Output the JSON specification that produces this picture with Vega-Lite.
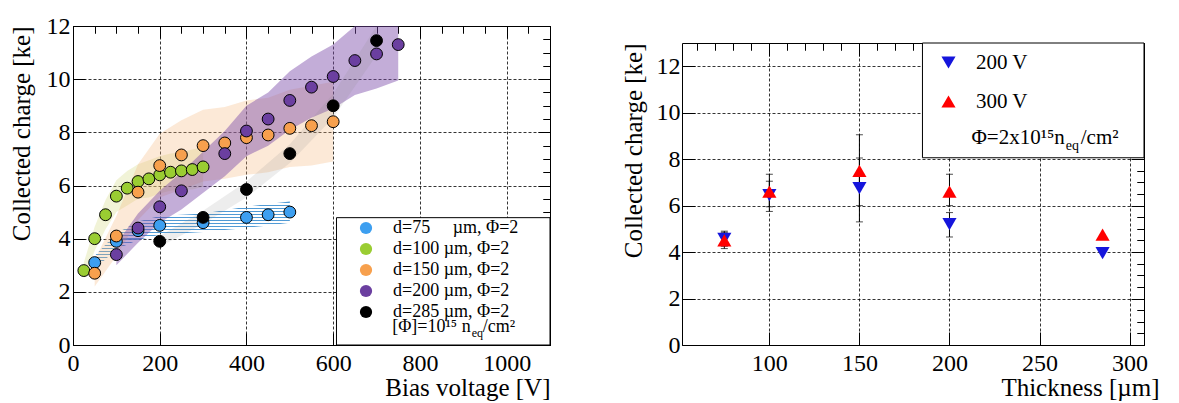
{
  "$schema": "https://vega.github.io/schema/vega-lite/v6.json",
  "padding": {"left": 8, "top": 13, "right": 0, "bottom": 0},
  "spacing": 69,
  "config": {
    "font": "Liberation Serif",
    "view": {"stroke": "black", "strokeWidth": 1},
    "text": {"font": "Liberation Serif"},
    "axis": {
      "domain": false,
      "labelFont": "Liberation Serif",
      "titleFont": "Liberation Serif",
      "labelFontSize": 24,
      "labelColor": "black",
      "titleFontSize": 25,
      "titleFontWeight": "normal",
      "titleColor": "black",
      "tickColor": "black",
      "tickWidth": 1,
      "gridColor": "black",
      "gridDash": [3, 2],
      "gridWidth": 0.8,
      "labelFlush": false,
      "labelOverlap": false
    },
    "legend": {"labelFont": "Liberation Serif", "labelColor": "black"}
  },
  "datasets": {
    "left": [
      {"d": 75, "v": 50, "q": 3.1, "lo": 2.85, "hi": 3.35},
      {"d": 75, "v": 100, "q": 3.9, "lo": 3.6, "hi": 4.2},
      {"d": 75, "v": 150, "q": 4.3, "lo": 3.95, "hi": 4.65},
      {"d": 75, "v": 200, "q": 4.5, "lo": 4.15, "hi": 4.85},
      {"d": 75, "v": 300, "q": 4.6, "lo": 4.25, "hi": 4.95},
      {"d": 75, "v": 400, "q": 4.8, "lo": 4.4, "hi": 5.2},
      {"d": 75, "v": 450, "q": 4.9, "lo": 4.5, "hi": 5.3},
      {"d": 75, "v": 500, "q": 5.0, "lo": 4.6, "hi": 5.4},
      {"d": 100, "v": 25, "q": 2.8, "lo": 2.5, "hi": 3.1},
      {"d": 100, "v": 50, "q": 4.0, "lo": 3.55, "hi": 4.45},
      {"d": 100, "v": 75, "q": 4.9, "lo": 4.35, "hi": 5.45},
      {"d": 100, "v": 100, "q": 5.6, "lo": 5.0, "hi": 6.2},
      {"d": 100, "v": 125, "q": 5.9, "lo": 5.25, "hi": 6.55},
      {"d": 100, "v": 150, "q": 6.15, "lo": 5.5, "hi": 6.8},
      {"d": 100, "v": 175, "q": 6.25, "lo": 5.55, "hi": 6.95},
      {"d": 100, "v": 200, "q": 6.4, "lo": 5.7, "hi": 7.1},
      {"d": 100, "v": 225, "q": 6.5, "lo": 5.8, "hi": 7.2},
      {"d": 100, "v": 250, "q": 6.55, "lo": 5.85, "hi": 7.25},
      {"d": 100, "v": 275, "q": 6.6, "lo": 5.85, "hi": 7.35},
      {"d": 100, "v": 300, "q": 6.7, "lo": 5.95, "hi": 7.45},
      {"d": 150, "v": 50, "q": 2.7, "lo": 2.2, "hi": 3.2},
      {"d": 150, "v": 100, "q": 4.1, "lo": 3.35, "hi": 4.85},
      {"d": 150, "v": 150, "q": 5.75, "lo": 4.7, "hi": 6.8},
      {"d": 150, "v": 200, "q": 6.75, "lo": 5.55, "hi": 7.95},
      {"d": 150, "v": 250, "q": 7.15, "lo": 5.85, "hi": 8.45},
      {"d": 150, "v": 300, "q": 7.5, "lo": 6.15, "hi": 8.85},
      {"d": 150, "v": 350, "q": 7.6, "lo": 6.25, "hi": 8.95},
      {"d": 150, "v": 400, "q": 7.8, "lo": 6.4, "hi": 9.2},
      {"d": 150, "v": 450, "q": 7.9, "lo": 6.5, "hi": 9.3},
      {"d": 150, "v": 500, "q": 8.15, "lo": 6.7, "hi": 9.6},
      {"d": 150, "v": 550, "q": 8.25, "lo": 6.75, "hi": 9.75},
      {"d": 150, "v": 600, "q": 8.4, "lo": 6.9, "hi": 9.9},
      {"d": 200, "v": 100, "q": 3.4, "lo": 3.0, "hi": 3.8},
      {"d": 200, "v": 150, "q": 4.4, "lo": 3.85, "hi": 4.95},
      {"d": 200, "v": 200, "q": 5.2, "lo": 4.6, "hi": 5.8},
      {"d": 200, "v": 250, "q": 5.8, "lo": 5.1, "hi": 6.5},
      {"d": 200, "v": 350, "q": 7.2, "lo": 6.35, "hi": 8.05},
      {"d": 200, "v": 400, "q": 8.05, "lo": 7.1, "hi": 9.0},
      {"d": 200, "v": 450, "q": 8.5, "lo": 7.5, "hi": 9.5},
      {"d": 200, "v": 500, "q": 9.2, "lo": 8.1, "hi": 10.3},
      {"d": 200, "v": 550, "q": 9.7, "lo": 8.55, "hi": 10.85},
      {"d": 200, "v": 600, "q": 10.1, "lo": 8.9, "hi": 11.3},
      {"d": 200, "v": 650, "q": 10.7, "lo": 9.4, "hi": 12.0},
      {"d": 200, "v": 700, "q": 10.95, "lo": 9.65, "hi": 12.25},
      {"d": 200, "v": 750, "q": 11.3, "lo": 9.95, "hi": 12.65},
      {"d": 285, "v": 200, "q": 3.9, "lo": 3.7, "hi": 4.1},
      {"d": 285, "v": 300, "q": 4.8, "lo": 4.55, "hi": 5.05},
      {"d": 285, "v": 400, "q": 5.85, "lo": 5.55, "hi": 6.15},
      {"d": 285, "v": 500, "q": 7.2, "lo": 6.85, "hi": 7.55},
      {"d": 285, "v": 600, "q": 9.0, "lo": 8.55, "hi": 9.45},
      {"d": 285, "v": 700, "q": 11.45, "lo": 10.9, "hi": 12.0}
    ],
    "right": [
      {"series": "200 V", "t": 75, "q": 4.57, "lo": 4.25, "hi": 4.9},
      {"series": "200 V", "t": 100, "q": 6.45, "lo": 5.75, "hi": 7.05},
      {"series": "200 V", "t": 150, "q": 6.75, "lo": 5.3, "hi": 8.05},
      {"series": "200 V", "t": 200, "q": 5.2, "lo": 4.65, "hi": 5.7},
      {"series": "200 V", "t": 285, "q": 3.95, "lo": null, "hi": null},
      {"series": "300 V", "t": 75, "q": 4.5, "lo": 4.15, "hi": 4.85},
      {"series": "300 V", "t": 100, "q": 6.6, "lo": 5.95, "hi": 7.35},
      {"series": "300 V", "t": 150, "q": 7.5, "lo": 6.0, "hi": 9.05},
      {"series": "300 V", "t": 200, "q": 6.6, "lo": 6.0, "hi": 7.35},
      {"series": "300 V", "t": 285, "q": 4.75, "lo": null, "hi": null}
    ]
  },
  "hconcat": [
    {
      "width": 477,
      "height": 319,
      "data": {"name": "left"},
      "resolve": {"axis": {"x": "independent", "y": "independent"}},
      "layer": [
        {
          "transform": [{"filter": "datum.d == 75"}],
          "mark": {
            "type": "area", "opacity": 0.9, "clip": true,
            "color": {
              "gradient": "linear", "x1": 0, "y1": 0, "x2": 0, "y2": 1,
              "stops": [
                {"offset": 0, "color": "#3d8fd0"}, {"offset": 0.0159, "color": "#3d8fd0"}, {"offset": 0.0159, "color": "rgba(255,255,255,0)"}, {"offset": 0.0455, "color": "rgba(255,255,255,0)"},
                {"offset": 0.0455, "color": "#3d8fd0"}, {"offset": 0.0614, "color": "#3d8fd0"}, {"offset": 0.0614, "color": "rgba(255,255,255,0)"}, {"offset": 0.0909, "color": "rgba(255,255,255,0)"},
                {"offset": 0.0909, "color": "#3d8fd0"}, {"offset": 0.1068, "color": "#3d8fd0"}, {"offset": 0.1068, "color": "rgba(255,255,255,0)"}, {"offset": 0.1364, "color": "rgba(255,255,255,0)"},
                {"offset": 0.1364, "color": "#3d8fd0"}, {"offset": 0.1523, "color": "#3d8fd0"}, {"offset": 0.1523, "color": "rgba(255,255,255,0)"}, {"offset": 0.1818, "color": "rgba(255,255,255,0)"},
                {"offset": 0.1818, "color": "#3d8fd0"}, {"offset": 0.1977, "color": "#3d8fd0"}, {"offset": 0.1977, "color": "rgba(255,255,255,0)"}, {"offset": 0.2273, "color": "rgba(255,255,255,0)"},
                {"offset": 0.2273, "color": "#3d8fd0"}, {"offset": 0.2432, "color": "#3d8fd0"}, {"offset": 0.2432, "color": "rgba(255,255,255,0)"}, {"offset": 0.2727, "color": "rgba(255,255,255,0)"},
                {"offset": 0.2727, "color": "#3d8fd0"}, {"offset": 0.2886, "color": "#3d8fd0"}, {"offset": 0.2886, "color": "rgba(255,255,255,0)"}, {"offset": 0.3182, "color": "rgba(255,255,255,0)"},
                {"offset": 0.3182, "color": "#3d8fd0"}, {"offset": 0.3341, "color": "#3d8fd0"}, {"offset": 0.3341, "color": "rgba(255,255,255,0)"}, {"offset": 0.3636, "color": "rgba(255,255,255,0)"},
                {"offset": 0.3636, "color": "#3d8fd0"}, {"offset": 0.3795, "color": "#3d8fd0"}, {"offset": 0.3795, "color": "rgba(255,255,255,0)"}, {"offset": 0.4091, "color": "rgba(255,255,255,0)"},
                {"offset": 0.4091, "color": "#3d8fd0"}, {"offset": 0.425, "color": "#3d8fd0"}, {"offset": 0.425, "color": "rgba(255,255,255,0)"}, {"offset": 0.4545, "color": "rgba(255,255,255,0)"},
                {"offset": 0.4545, "color": "#3d8fd0"}, {"offset": 0.4704, "color": "#3d8fd0"}, {"offset": 0.4704, "color": "rgba(255,255,255,0)"}, {"offset": 0.5, "color": "rgba(255,255,255,0)"},
                {"offset": 0.5, "color": "#3d8fd0"}, {"offset": 0.5159, "color": "#3d8fd0"}, {"offset": 0.5159, "color": "rgba(255,255,255,0)"}, {"offset": 0.5455, "color": "rgba(255,255,255,0)"},
                {"offset": 0.5455, "color": "#3d8fd0"}, {"offset": 0.5614, "color": "#3d8fd0"}, {"offset": 0.5614, "color": "rgba(255,255,255,0)"}, {"offset": 0.5909, "color": "rgba(255,255,255,0)"},
                {"offset": 0.5909, "color": "#3d8fd0"}, {"offset": 0.6068, "color": "#3d8fd0"}, {"offset": 0.6068, "color": "rgba(255,255,255,0)"}, {"offset": 0.6364, "color": "rgba(255,255,255,0)"},
                {"offset": 0.6364, "color": "#3d8fd0"}, {"offset": 0.6523, "color": "#3d8fd0"}, {"offset": 0.6523, "color": "rgba(255,255,255,0)"}, {"offset": 0.6818, "color": "rgba(255,255,255,0)"},
                {"offset": 0.6818, "color": "#3d8fd0"}, {"offset": 0.6977, "color": "#3d8fd0"}, {"offset": 0.6977, "color": "rgba(255,255,255,0)"}, {"offset": 0.7273, "color": "rgba(255,255,255,0)"},
                {"offset": 0.7273, "color": "#3d8fd0"}, {"offset": 0.7432, "color": "#3d8fd0"}, {"offset": 0.7432, "color": "rgba(255,255,255,0)"}, {"offset": 0.7727, "color": "rgba(255,255,255,0)"},
                {"offset": 0.7727, "color": "#3d8fd0"}, {"offset": 0.7886, "color": "#3d8fd0"}, {"offset": 0.7886, "color": "rgba(255,255,255,0)"}, {"offset": 0.8182, "color": "rgba(255,255,255,0)"},
                {"offset": 0.8182, "color": "#3d8fd0"}, {"offset": 0.8341, "color": "#3d8fd0"}, {"offset": 0.8341, "color": "rgba(255,255,255,0)"}, {"offset": 0.8636, "color": "rgba(255,255,255,0)"},
                {"offset": 0.8636, "color": "#3d8fd0"}, {"offset": 0.8795, "color": "#3d8fd0"}, {"offset": 0.8795, "color": "rgba(255,255,255,0)"}, {"offset": 0.9091, "color": "rgba(255,255,255,0)"},
                {"offset": 0.9091, "color": "#3d8fd0"}, {"offset": 0.925, "color": "#3d8fd0"}, {"offset": 0.925, "color": "rgba(255,255,255,0)"}, {"offset": 0.9545, "color": "rgba(255,255,255,0)"},
                {"offset": 0.9545, "color": "#3d8fd0"}, {"offset": 0.9704, "color": "#3d8fd0"}, {"offset": 0.9704, "color": "rgba(255,255,255,0)"}, {"offset": 1, "color": "rgba(255,255,255,0)"}
              ]
            }
          },
          "encoding": {
            "x": {
              "field": "v", "type": "quantitative",
              "scale": {"domain": [0, 1100], "nice": false, "zero": false},
              "axis": {
                "values": [0, 200, 400, 600, 800, 1000],
                "format": "d",
                "tickSize": -12,
                "labelPadding": 18,
                "grid": true,
                "title": "Bias voltage [V]",
                "titleAnchor": "end",
                "titlePadding": 0
              }
            },
            "y": {
              "field": "lo", "type": "quantitative",
              "scale": {"domain": [0, 12], "nice": false},
              "axis": {
                "values": [0, 2, 4, 6, 8, 10, 12],
                "format": "d",
                "tickSize": -12,
                "labelPadding": 15,
                "grid": true,
                "title": "Collected charge [ke]",
                "titleAnchor": "end",
                "titlePadding": 12
              }
            },
            "y2": {"field": "hi"}
          }
        },
        {
          "transform": [{"filter": "datum.d == 100"}],
          "mark": {"type": "area", "color": "#d2d77a", "opacity": 0.3, "clip": true},
          "encoding": {
            "x": {
              "field": "v", "type": "quantitative",
              "axis": {
                "values": [0, 50, 100, 150, 200, 250, 300, 350, 400, 450, 500, 550, 600, 650, 700, 750, 800, 850, 900, 950, 1000, 1050, 1100],
                "labels": false, "grid": false, "title": null, "tickSize": -7
              }
            },
            "y": {
              "field": "lo", "type": "quantitative",
              "axis": {
                "values": [0, 0.5, 1, 1.5, 2, 2.5, 3, 3.5, 4, 4.5, 5, 5.5, 6, 6.5, 7, 7.5, 8, 8.5, 9, 9.5, 10, 10.5, 11, 11.5, 12],
                "labels": false, "grid": false, "title": null, "tickSize": -7
              }
            },
            "y2": {"field": "hi"}
          }
        },
        {
          "transform": [{"filter": "datum.d == 150"}],
          "mark": {"type": "area", "color": "#f5b57a", "opacity": 0.3, "clip": true},
          "encoding": {
            "x": {
              "field": "v", "type": "quantitative",
              "axis": {"orient": "top", "values": [0, 200, 400, 600, 800, 1000], "labels": false, "grid": false, "title": null, "tickSize": -12}
            },
            "y": {
              "field": "lo", "type": "quantitative",
              "axis": {"orient": "right", "values": [0, 2, 4, 6, 8, 10, 12], "labels": false, "grid": false, "title": null, "tickSize": -12}
            },
            "y2": {"field": "hi"}
          }
        },
        {
          "transform": [{"filter": "datum.d == 200"}],
          "mark": {"type": "area", "color": "#7a4aa8", "opacity": 0.45, "clip": true},
          "encoding": {
            "x": {
              "field": "v", "type": "quantitative",
              "axis": {
                "orient": "top",
                "values": [0, 50, 100, 150, 200, 250, 300, 350, 400, 450, 500, 550, 600, 650, 700, 750, 800, 850, 900, 950, 1000, 1050, 1100],
                "labels": false, "grid": false, "title": null, "tickSize": -7
              }
            },
            "y": {
              "field": "lo", "type": "quantitative",
              "axis": {
                "orient": "right",
                "values": [0, 0.5, 1, 1.5, 2, 2.5, 3, 3.5, 4, 4.5, 5, 5.5, 6, 6.5, 7, 7.5, 8, 8.5, 9, 9.5, 10, 10.5, 11, 11.5, 12],
                "labels": false, "grid": false, "title": null, "tickSize": -7
              }
            },
            "y2": {"field": "hi"}
          }
        },
        {
          "transform": [{"filter": "datum.d == 285"}],
          "mark": {"type": "area", "color": "#888888", "opacity": 0.15, "clip": true},
          "encoding": {
            "x": {"field": "v", "type": "quantitative", "axis": null},
            "y": {"field": "lo", "type": "quantitative", "axis": null},
            "y2": {"field": "hi"}
          }
        },
        {
          "data": {"values": [{}]},
          "mark": {"type": "rect", "fill": "white", "stroke": "black", "strokeWidth": 1},
          "encoding": {
            "x": {"datum": 607.6, "type": "quantitative", "axis": null},
            "x2": {"datum": 1100},
            "y": {"datum": 0, "type": "quantitative", "axis": null},
            "y2": {"datum": 4.79}
          }
        },
        {
          "mark": {"type": "circle", "size": 140, "opacity": 1, "stroke": "black", "strokeWidth": 1},
          "encoding": {
            "x": {"field": "v", "type": "quantitative", "axis": null},
            "y": {"field": "q", "type": "quantitative", "axis": null},
            "fill": {
              "field": "d", "type": "nominal",
              "scale": {"domain": [75, 100, 150, 200, 285], "range": ["#3d9ff0", "#9acd32", "#f7a04d", "#6b3fa0", "#000000"]},
              "legend": {
                "orient": "none", "legendX": 284, "legendY": 193, "title": null,
                "labelFontSize": 18, "symbolType": "circle", "symbolSize": 150,
                "symbolStrokeWidth": 0, "rowPadding": 3, "labelOffset": 18, "padding": 0,
                "labelExpr": "'d=' + datum.label + (datum.label == '75' ? '\u00a0\u00a0\u00a0\u00a0 ' : ' ') + 'µm, Φ=2'"
              }
            }
          }
        },
        {
          "data": {"values": [{}]},
          "mark": {"type": "text", "text": "[Φ]=10¹⁵ n", "align": "right", "baseline": "alphabetic", "fontSize": 18, "color": "black"},
          "encoding": {
            "x": {"datum": 917, "type": "quantitative", "axis": null},
            "y": {"datum": 0.5, "type": "quantitative", "axis": null}
          }
        },
        {
          "data": {"values": [{}]},
          "mark": {"type": "text", "text": "eq", "align": "left", "baseline": "alphabetic", "fontSize": 12, "dx": 1, "dy": 5, "color": "black"},
          "encoding": {
            "x": {"datum": 917, "type": "quantitative", "axis": null},
            "y": {"datum": 0.5, "type": "quantitative", "axis": null}
          }
        },
        {
          "data": {"values": [{}]},
          "mark": {"type": "text", "text": "/cm²", "align": "left", "baseline": "alphabetic", "fontSize": 18, "dx": 12, "color": "black"},
          "encoding": {
            "x": {"datum": 917, "type": "quantitative", "axis": null},
            "y": {"datum": 0.5, "type": "quantitative", "axis": null}
          }
        }
      ]
    },
    {
      "spacing": 0,
      "vconcat": [
        {
          "width": 462,
          "height": 16,
          "view": {"stroke": null},
          "data": {"values": []},
          "mark": {"type": "point"},
          "encoding": {}
        },
        {
          "width": 462,
          "height": 302,
          "data": {"name": "right"},
          "resolve": {"axis": {"x": "independent", "y": "independent"}},
          "layer": [
            {
              "mark": {"type": "rule", "color": "black", "strokeWidth": 1},
              "encoding": {
                "x": {
                  "field": "t", "type": "quantitative",
                  "scale": {"domain": [51.5, 308], "nice": false, "zero": false},
                  "axis": {
                    "values": [100, 150, 200, 250, 300],
                    "format": "d",
                    "tickSize": -13,
                    "labelPadding": 19,
                    "grid": true,
                    "title": "Thickness [µm]",
                    "titleX": 477,
                    "titleAlign": "right",
                    "titlePadding": 0
                  }
                },
                "y": {
                  "field": "lo", "type": "quantitative",
                  "scale": {"domain": [0, 13], "nice": false},
                  "axis": {
                    "values": [0, 2, 4, 6, 8, 10, 12],
                    "format": "d",
                    "tickSize": -13,
                    "labelPadding": 15,
                    "grid": true,
                    "title": "Collected charge [ke]",
                    "titleAnchor": "end",
                    "titlePadding": 10
                  }
                },
                "y2": {"field": "hi"}
              }
            },
            {
              "mark": {"type": "tick", "orient": "horizontal", "color": "black", "size": 7, "thickness": 1},
              "encoding": {
                "x": {
                  "field": "t", "type": "quantitative",
                  "axis": {
                    "values": [60, 70, 80, 90, 100, 110, 120, 130, 140, 150, 160, 170, 180, 190, 200, 210, 220, 230, 240, 250, 260, 270, 280, 290, 300],
                    "labels": false, "grid": false, "title": null, "tickSize": -7
                  }
                },
                "y": {
                  "field": "lo", "type": "quantitative",
                  "axis": {
                    "values": [0, 0.5, 1, 1.5, 2, 2.5, 3, 3.5, 4, 4.5, 5, 5.5, 6, 6.5, 7, 7.5, 8, 8.5, 9, 9.5, 10, 10.5, 11, 11.5, 12, 12.5, 13],
                    "labels": false, "grid": false, "title": null, "tickSize": -7
                  }
                }
              }
            },
            {
              "mark": {"type": "tick", "orient": "horizontal", "color": "black", "size": 7, "thickness": 1},
              "encoding": {
                "x": {
                  "field": "t", "type": "quantitative",
                  "axis": {"orient": "top", "values": [100, 150, 200, 250, 300], "labels": false, "grid": false, "title": null, "tickSize": -13}
                },
                "y": {
                  "field": "hi", "type": "quantitative",
                  "axis": {"orient": "right", "values": [0, 2, 4, 6, 8, 10, 12], "labels": false, "grid": false, "title": null, "tickSize": -13}
                }
              }
            },
            {
              "data": {"values": [{}]},
              "mark": {"type": "rect", "fill": "white", "stroke": "black", "strokeWidth": 1},
              "encoding": {
                "x": {"datum": 185, "type": "quantitative", "axis": null},
                "x2": {"datum": 308},
                "y": {"datum": 8.06, "type": "quantitative", "axis": null},
                "y2": {"datum": 13}
              }
            },
            {
              "mark": {"type": "point", "filled": true, "size": 200, "opacity": 1},
              "encoding": {
                "x": {
                  "field": "t", "type": "quantitative",
                  "axis": {
                    "orient": "top",
                    "values": [60, 70, 80, 90, 100, 110, 120, 130, 140, 150, 160, 170, 180, 190, 200, 210, 220, 230, 240, 250, 260, 270, 280, 290, 300],
                    "labels": false, "grid": false, "title": null, "tickSize": -7
                  }
                },
                "y": {
                  "field": "q", "type": "quantitative",
                  "axis": {
                    "orient": "right",
                    "values": [0, 0.5, 1, 1.5, 2, 2.5, 3, 3.5, 4, 4.5, 5, 5.5, 6, 6.5, 7, 7.5, 8, 8.5, 9, 9.5, 10, 10.5, 11, 11.5, 12, 12.5, 13],
                    "labels": false, "grid": false, "title": null, "tickSize": -7
                  }
                },
                "color": {
                  "field": "series", "type": "nominal",
                  "scale": {"domain": ["200 V", "300 V"], "range": ["#1515dc", "#ff0000"]},
                  "legend": {"orient": "none", "legendX": 865, "legendY": 26, "title": null, "labelFontSize": 21, "symbolSize": 200, "rowPadding": 17, "labelOffset": 17, "padding": 0}
                },
                "shape": {
                  "field": "series", "type": "nominal",
                  "scale": {"domain": ["200 V", "300 V"], "range": ["triangle-down", "triangle-up"]},
                  "legend": {"orient": "none", "legendX": 865, "legendY": 26, "title": null, "labelFontSize": 21, "symbolSize": 200, "rowPadding": 17, "labelOffset": 17, "padding": 0}
                }
              }
            },
            {
              "data": {"values": [{}]},
              "mark": {"type": "text", "text": "Φ=2x10¹⁵n", "align": "right", "baseline": "alphabetic", "fontSize": 21, "color": "black"},
              "encoding": {
                "x": {"datum": 264, "type": "quantitative", "axis": null},
                "y": {"datum": 8.65, "type": "quantitative", "axis": null}
              }
            },
            {
              "data": {"values": [{}]},
              "mark": {"type": "text", "text": "eq", "align": "left", "baseline": "alphabetic", "fontSize": 14, "dx": 1, "dy": 6, "color": "black"},
              "encoding": {
                "x": {"datum": 264, "type": "quantitative", "axis": null},
                "y": {"datum": 8.65, "type": "quantitative", "axis": null}
              }
            },
            {
              "data": {"values": [{}]},
              "mark": {"type": "text", "text": "/cm²", "align": "left", "baseline": "alphabetic", "fontSize": 21, "dx": 16, "color": "black"},
              "encoding": {
                "x": {"datum": 264, "type": "quantitative", "axis": null},
                "y": {"datum": 8.65, "type": "quantitative", "axis": null}
              }
            }
          ]
        }
      ]
    }
  ]
}
